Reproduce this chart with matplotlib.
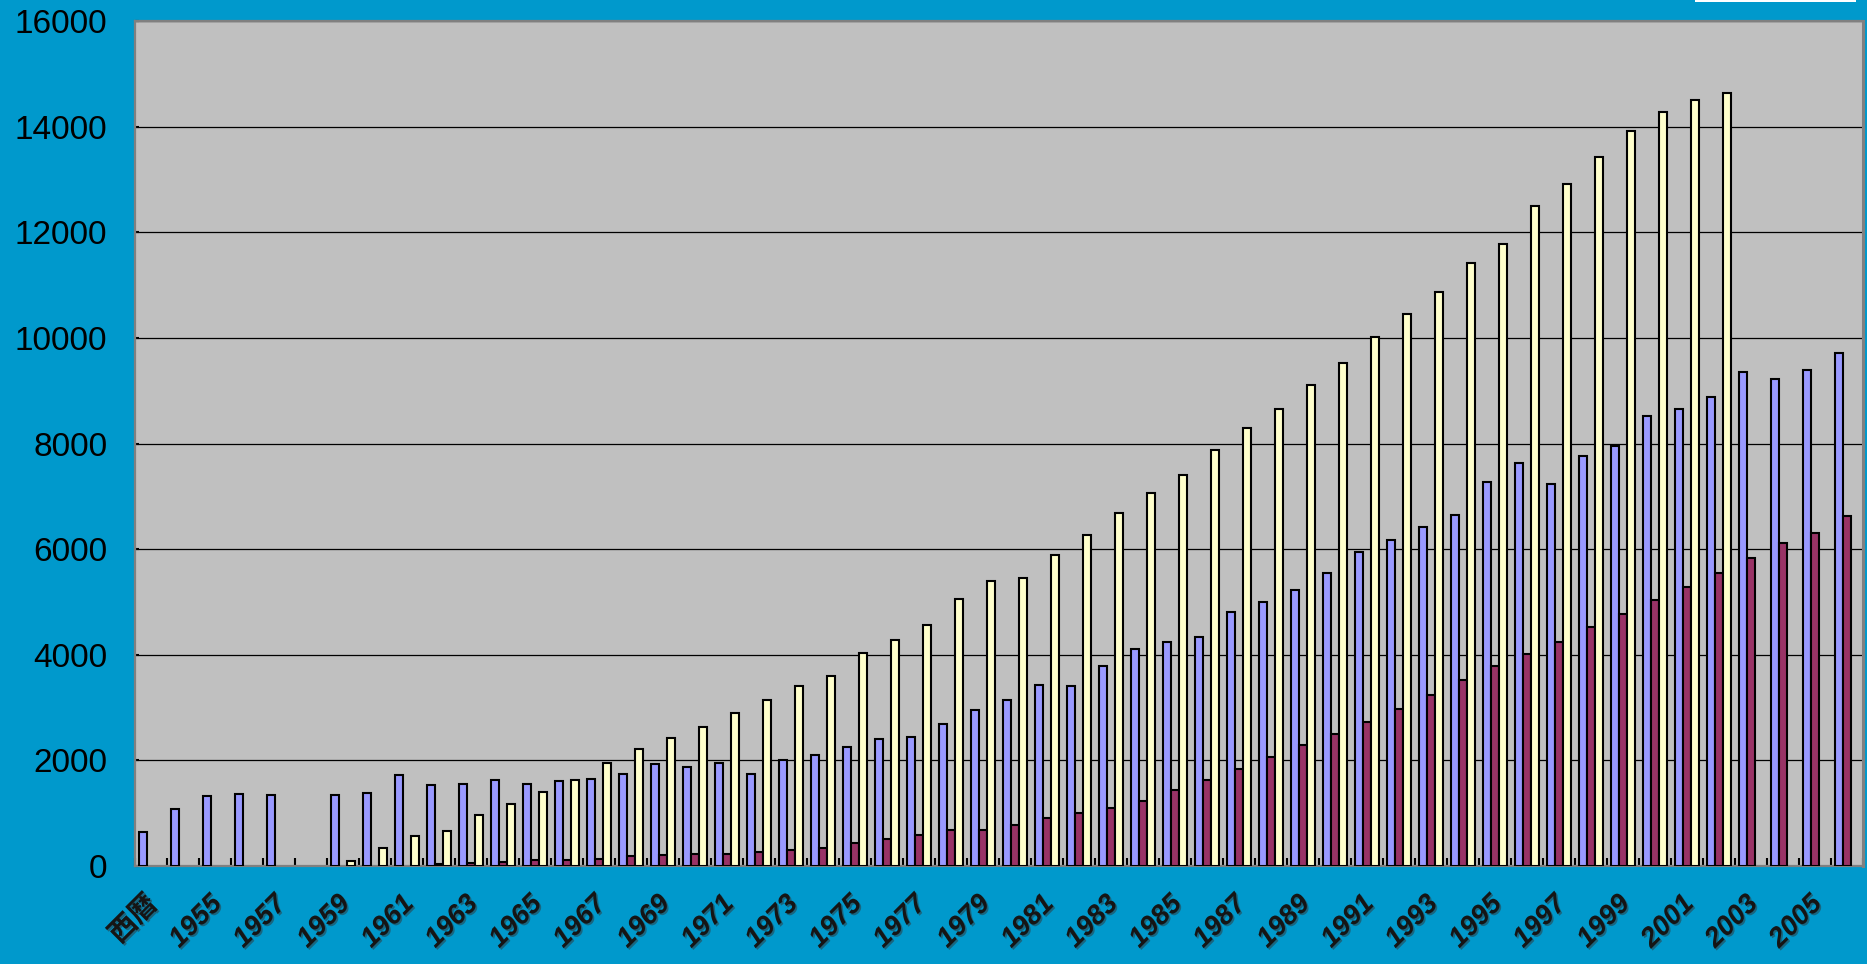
import numpy as np
import matplotlib
matplotlib.use("Agg")
import matplotlib.pyplot as plt
import matplotlib.patheffects as pe
from matplotlib.patches import Rectangle
from matplotlib.transforms import ScaledTranslation

nan = np.nan

# Category labels: header cell followed by the years 1954-2006
categories = ["西暦"] + [str(y) for y in range(1954, 2007)]

series_blue = [
    650, 1070, 1330, 1360, 1340, nan, 1340, 1390, 1720, 1530,
    1550, 1630, 1550, 1610, 1650, 1750, 1930, 1870, 1950, 1740,
    2000, 2100, 2250, 2400, 2440, 2690, 2950, 3150, 3420, 3400,
    3790, 4100, 4250, 4340, 4810, 4990, 5220, 5550, 5950, 6180,
    6420, 6650, 7270, 7640, 7240, 7760, 7960, 8520, 8660, 8880,
    9350, 9220, 9390, 9720,
]

series_maroon = [
    nan, nan, nan, nan, nan, nan, nan, nan, nan, 30,
    55, 80, 110, 110, 130, 190, 210, 230, 230, 260,
    300, 350, 430, 505, 580, 680, 680, 780, 900, 1000,
    1090, 1240, 1440, 1630, 1830, 2070, 2290, 2490, 2730, 2980,
    3240, 3520, 3790, 4010, 4240, 4520, 4780, 5040, 5290, 5540,
    5840, 6110, 6310, 6630,
]

series_yellow = [
    nan, nan, nan, nan, nan, nan, 100, 340, 560, 670,
    970, 1170, 1410, 1630, 1950, 2210, 2430, 2630, 2900, 3150,
    3400, 3590, 4030, 4280, 4560, 5050, 5400, 5450, 5890, 6270,
    6680, 7070, 7410, 7880, 8290, 8650, 9100, 9530, 10010, 10450,
    10870, 11420, 11770, 12500, 12920, 13420, 13920, 14270, 14500, 14640,
    nan, nan, nan, nan,
]

y_ticks = list(range(0, 16001, 2000))

W, H, DPI = 1867, 964, 100
fig = plt.figure(figsize=(W / DPI, H / DPI), dpi=DPI)
fig.patch.set_facecolor("#0099CC")

ax = fig.add_axes([135 / W, 1 - 866 / H, 1728 / W, 845 / H])
ax.set_facecolor("#C0C0C0")

x = np.arange(len(categories))
bw = 0.25
bar_kw = dict(width=bw, edgecolor="black", linewidth=1.5, zorder=3)
ax.bar(x - bw, np.array(series_blue, float), color="#9999FF", **bar_kw)
ax.bar(x, np.array(series_maroon, float), color="#993366", **bar_kw)
ax.bar(x + bw, np.array(series_yellow, float), color="#FFFFCC", **bar_kw)

ax.set_xlim(-0.5, len(categories) - 0.5)
ax.set_ylim(0, 16000)

# horizontal grid
ax.set_yticks(y_ticks)
ax.yaxis.grid(True, color="black", linewidth=0.9, zorder=1)
ax.set_axisbelow(True)
ax.set_yticklabels([str(v) for v in y_ticks], fontsize=24,
                   family=["Liberation Sans", "DejaVu Sans"], color="black")
ax.tick_params(axis="y", direction="in", length=3, width=1.5, color="black", pad=20)

# category boundary ticks and alternating labels
ax.set_xticks(np.arange(-0.5, len(categories), 1.0), minor=True)
ax.tick_params(axis="x", which="minor", direction="in", length=6, width=1.5, color="black")
label_idx = list(range(0, len(categories), 2))
ax.set_xticks(label_idx)
ax.set_xticklabels([categories[i] for i in label_idx], rotation=45, ha="right", va="top",
                   fontsize=20, fontweight="bold", fontstyle="italic",
                   family=["Liberation Sans", "Noto Sans CJK JP"], color="#151515")
ax.tick_params(axis="x", which="major", length=0, pad=18)
shift = ScaledTranslation(12 / DPI, 0, fig.dpi_scale_trans)
for lab in ax.get_xticklabels():
    lab.set_transform(lab.get_transform() + shift)
    lab.set_path_effects([pe.withSimplePatchShadow(offset=(1.2, -1.2),
                                                   shadow_rgbFace="#333333", alpha=0.5)])

for side in ["left", "bottom", "top", "right"]:
    ax.spines[side].set_color("#808080")
    ax.spines[side].set_linewidth(1.6)
ax.spines["right"].set_linewidth(2.2)

# strip along the top right edge
fig.add_artist(Rectangle((1695 / W, 1 - 1.5 / H), (1856 - 1695) / W, 1.5 / H,
                         transform=fig.transFigure, facecolor="white",
                         edgecolor="none"))

fig.savefig("out.png", dpi=DPI, facecolor=fig.get_facecolor())
